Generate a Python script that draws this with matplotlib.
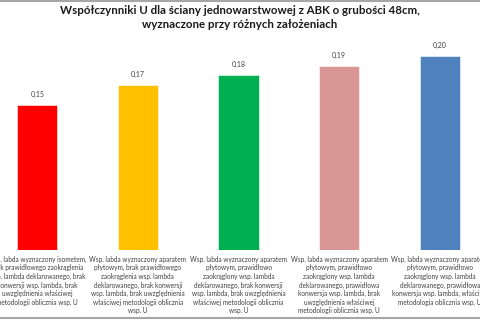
import matplotlib
matplotlib.use("Agg")
import matplotlib.pyplot as plt
from matplotlib.lines import Line2D

# dane z wykresu
labels = [
    "Wsp. labda wyznaczony isometem,\nbrak prawidłowego zaokrąglenia\nwsp. lambda deklarowanego, brak\nkonwersji wsp. lambda, brak\nuwzględnienia właściwej\nmetodologii oblicznia wsp. U",
    "Wsp. labda wyznaczony aparatem\npłytowym, brak prawidłowego\nzaokrąglenia wsp. lambda\ndeklarowanego, brak konwersji\nwsp. lambda, brak uwzględnienia\nwłaściwej metodologii oblicznia\nwsp. U",
    "Wsp. labda wyznaczony aparatem\npłytowym, prawidłowo\nzaokrąglony wsp. lambda\ndeklarowanego, brak konwersji\nwsp. lambda, brak uwzględnienia\nwłaściwej metodologii oblicznia\nwsp. U",
    "Wsp. labda wyznaczony aparatem\npłytowym, prawidłowo\nzaokrąglony wsp. lambda\ndeklarowanego, prawidłowa\nkonwersja wsp. lambda, brak\nuwzględnienia właściwej\nmetodologii oblicznia wsp. U",
    "Wsp. labda wyznaczony aparatem\npłytowym, prawidłowo\nzaokrąglony wsp. lambda\ndeklarowanego, prawidłowa\nkonwersja wsp. lambda, właściwa\nmetodologia oblicznia wsp. U",
]
values = [0.15, 0.17, 0.18, 0.19, 0.20]
colors = ["#FF0000", "#FFC000", "#00B050", "#DA9694", "#4F81BD"]
title = "Współczynniki U dla ściany jednowarstwowej z ABK o grubości 48cm,\nwyznaczone przy różnych założeniach"

plt.rcParams["font.family"] = ["Lato", "DejaVu Sans"]

fig = plt.figure(figsize=(4.8, 3.2), dpi=100)
# oś wychodzi poza kadr, jak w oryginalnym (przyciętym) zrzucie
ymax = 0.22
ax = fig.add_axes([-13 / 480, 70 / 320, 503 / 480, ymax * 970 / 320])

x = list(range(len(values)))
bars = ax.bar(x, values, width=0.4, color=colors, edgecolor="white", linewidth=0.4)
for b, v in zip(bars, values):
    ax.annotate(f"{v:.2f}".replace(".", ","), (b.get_x() + b.get_width() / 2, v),
                xytext=(0, 5), textcoords="offset points", ha="center", va="bottom",
                fontsize=5, color="#404040")

ax.set_xlim(-0.5, len(values) - 0.5)
ax.set_ylim(0, ymax)
ax.set_xticks(x)
ax.set_xticklabels(labels, fontsize=4.7, color="#404040", linespacing=1.27)
ax.tick_params(axis="x", length=0, pad=4)
ax.set_yticks([])
for s in ax.spines.values():
    s.set_visible(False)

fig.text(0.5, 0.985, title, ha="center", va="top", fontsize=8.3, fontweight="bold",
         color="#1a1a1a", linespacing=1.3)

# szare krawędzie ramki
fig.add_artist(Line2D([0, 1], [0.997, 0.997], color="#a6a6a6", lw=1.5))
fig.add_artist(Line2D([0, 1], [0.006, 0.006], color="#a6a6a6", lw=1.5))

fig.savefig("out.png", dpi=100)
